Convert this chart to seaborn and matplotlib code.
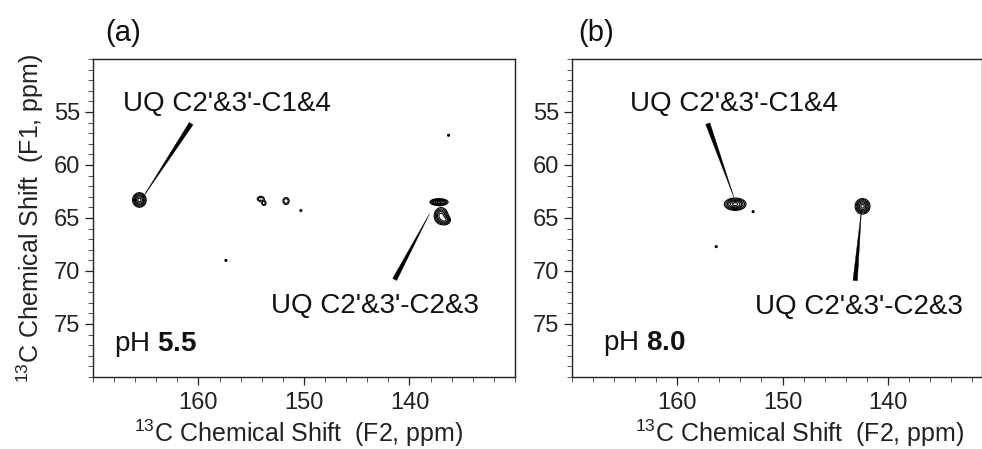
import numpy as np
import pandas as pd
import matplotlib
matplotlib.use("Agg")
import matplotlib.pyplot as plt
from matplotlib.ticker import MultipleLocator, FixedLocator
import seaborn as sns

# ---------------- data ----------------
# panel (a) pH 5.5 cross peaks: F2 shift, F1 shift, relative amplitude, widths (ppm)
a_peak_f2 = [165.6, 154.1, 153.8, 151.7, 137.2, 137.0, 136.6]
a_peak_f1 = [63.3, 63.2, 63.6, 63.4, 63.5, 64.8, 65.2]
a_peak_amp = [1.0, 0.30, 0.25, 0.30, 1.0, 0.8, 0.5]
a_peak_wf2 = [0.30, 0.22, 0.15, 0.20, 0.40, 0.32, 0.26]
a_peak_wf1 = [0.32, 0.16, 0.16, 0.22, 0.15, 0.38, 0.22]
# isolated noise points in (a)
a_dot_f2 = [150.3, 157.4, 136.3]
a_dot_f1 = [64.3, 69.0, 57.2]

# panel (b) pH 8.0 cross peaks
b_peak_f2 = [154.5, 142.4]
b_peak_f1 = [63.7, 63.9]
b_peak_amp = [1.0, 1.0]
b_peak_wf2 = [0.48, 0.33]
b_peak_wf1 = [0.27, 0.34]
b_dot_f2 = [152.8, 156.3]
b_dot_f1 = [64.4, 67.7]

contour_levels = [0.10, 0.18, 0.30, 0.45, 0.65, 0.88]

x_ticks = [160, 150, 140]
y_ticks = [55, 60, 65, 70, 75]
panel_tags = ["(a)", "(b)"]
ph_values = ["5.5", "8.0"]
label_c14 = "UQ C2'&3'-C1&4"
label_c23 = "UQ C2'&3'-C2&3"

# ---------------- style ----------------
sns.set_style("ticks")
plt.rcParams["font.family"] = ["Liberation Sans", "DejaVu Sans"]
plt.rcParams["mathtext.fontset"] = "custom"
plt.rcParams["mathtext.rm"] = "Liberation Sans"
plt.rcParams["mathtext.bf"] = "Liberation Sans:bold"
plt.rcParams["text.color"] = "#111111"

TXT = 20
fig = plt.figure(figsize=(9.82, 4.49), dpi=100)
ax_a = fig.add_axes([0.0947, 0.1604, 0.4297, 0.7082])
ax_b = fig.add_axes([0.5825, 0.1604, 0.4170, 0.7082])

gx = np.linspace(129, 171, 1400)
gy = np.linspace(49, 81, 1100)
GX, GY = np.meshgrid(gx, gy)


def spectrum(f2, f1, amp, w2, w1):
    z = np.zeros_like(GX)
    for x0, y0, a, sx, sy in zip(f2, f1, amp, w2, w1):
        z += a * np.exp(-0.5 * (((GX - x0) / sx) ** 2 + ((GY - y0) / sy) ** 2))
    return z


def style_axes(ax, xmax_right):
    ax.set_xlim(170, xmax_right)
    ax.set_ylim(80, 50)
    ax.xaxis.set_major_locator(FixedLocator(x_ticks))
    ax.xaxis.set_minor_locator(MultipleLocator(2))
    ax.yaxis.set_major_locator(FixedLocator(y_ticks))
    ax.yaxis.set_minor_locator(MultipleLocator(1))
    ax.tick_params(which="major", direction="out", length=6, width=0.9,
                   labelsize=17, colors="#222222", pad=5)
    ax.tick_params(which="minor", direction="out", length=3.5, width=0.7,
                   colors="#555555")
    ax.tick_params(axis="y", which="major", pad=3)
    ax.tick_params(labelcolor="#222222")
    for s in ax.spines.values():
        s.set_visible(True)
        s.set_linewidth(1.0)
        s.set_color("#222222")
    ax.set_xlabel("$^{13}$C Chemical Shift  (F2, ppm)", fontsize=18,
                  color="#222222")
    ax.set_ylabel("")


def wedge(ax, tip, tail):
    ax.annotate("", xy=tip, xytext=tail,
                arrowprops=dict(arrowstyle="wedge,tail_width=0.32,shrink_factor=0.5",
                                fc="black", ec="black", lw=0.3,
                                shrinkA=0, shrinkB=0, mutation_scale=10))


# ---- panel (a)
za = spectrum(a_peak_f2, a_peak_f1, a_peak_amp, a_peak_wf2, a_peak_wf1)
ax_a.contour(GX, GY, za, levels=contour_levels, colors="black", linewidths=0.8)
sns.scatterplot(x=a_dot_f2, y=a_dot_f1, ax=ax_a, color="black", s=5,
                edgecolor="none", legend=False)
style_axes(ax_a, 130)
ax_a.set_ylabel("$^{13}$C Chemical Shift  (F1, ppm)", fontsize=18,
                color="#222222")
ax_a.yaxis.set_label_coords(-0.112, 0.5)
ax_a.xaxis.set_label_coords(0.488, -0.128)
ax_a.text(167.2, 54.2, label_c14, fontsize=TXT, ha="left", va="center")
ax_a.text(153.1, 73.3, label_c23, fontsize=TXT, ha="left", va="center")
ax_a.text(168.0, 76.9, "pH $\\mathbf{" + ph_values[0] + "}$", fontsize=TXT,
          ha="left", va="center")
wedge(ax_a, (165.3, 63.1), (160.7, 56.1))
wedge(ax_a, (138.1, 64.6), (141.4, 70.8))

# ---- panel (b)
zb = spectrum(b_peak_f2, b_peak_f1, b_peak_amp, b_peak_wf2, b_peak_wf1)
ax_b.contour(GX, GY, zb, levels=contour_levels, colors="black", linewidths=0.8)
sns.scatterplot(x=b_dot_f2, y=b_dot_f1, ax=ax_b, color="black", s=5,
                edgecolor="none", legend=False)
style_axes(ax_b, 131.1)
ax_b.xaxis.set_label_coords(0.556, -0.128)
ax_b.text(164.5, 54.2, label_c14, fontsize=TXT, ha="left", va="center")
ax_b.text(152.6, 73.4, label_c23, fontsize=TXT, ha="left", va="center")
ax_b.text(167.1, 76.8, "pH $\\mathbf{" + ph_values[1] + "}$", fontsize=TXT,
          ha="left", va="center")
wedge(ax_b, (154.6, 63.1), (157.1, 56.1))
wedge(ax_b, (142.5, 64.2), (143.1, 70.9))

fig.text(0.107, 0.926, panel_tags[0], fontsize=21, ha="left", va="center")
fig.text(0.589, 0.926, panel_tags[1], fontsize=21, ha="left", va="center")

fig.savefig("out.png", dpi=100)
